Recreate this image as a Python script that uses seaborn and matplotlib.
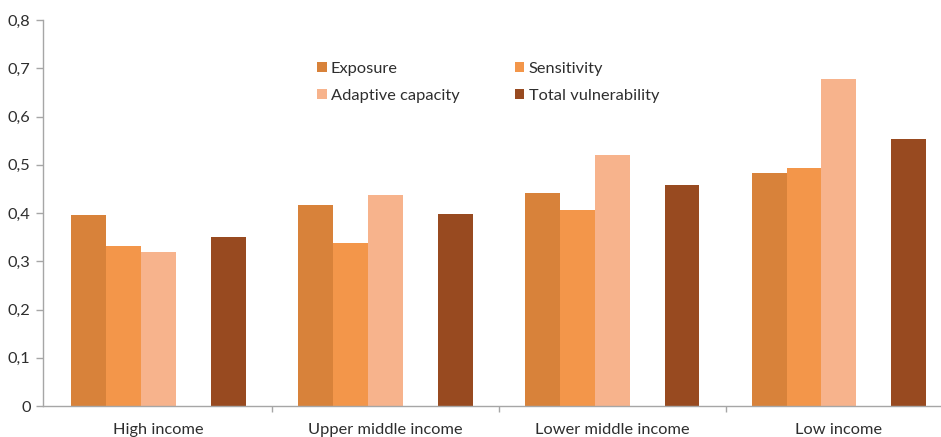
import matplotlib
matplotlib.use("Agg")
import matplotlib.pyplot as plt
from matplotlib.patches import Patch
from matplotlib.ticker import FixedLocator, FuncFormatter
import seaborn as sns
import pandas as pd
import numpy as np

# Income groups and vulnerability components
groups = ["High income", "Upper middle income", "Lower middle income", "Low income"]
exposure = [0.395, 0.417, 0.441, 0.482]
sensitivity = [0.331, 0.337, 0.407, 0.493]
adaptive_capacity = [0.319, 0.437, 0.521, 0.677]
total_vulnerability = [0.350, 0.398, 0.459, 0.554]

series_names = ["Exposure", "Sensitivity", "Adaptive capacity", "Total vulnerability"]
colors = ["#D8823A", "#F3964A", "#F7B38C", "#984A20"]
yticks = [0, 0.1, 0.2, 0.3, 0.4, 0.5, 0.6, 0.7, 0.8]

# Empty slot between the components and the total
spacer = " "
rows = []
for i, g in enumerate(groups):
    rows.append((g, "Exposure", exposure[i]))
    rows.append((g, "Sensitivity", sensitivity[i]))
    rows.append((g, "Adaptive capacity", adaptive_capacity[i]))
    rows.append((g, spacer, np.nan))
    rows.append((g, "Total vulnerability", total_vulnerability[i]))
df = pd.DataFrame(rows, columns=["group", "component", "value"])

hue_order = ["Exposure", "Sensitivity", "Adaptive capacity", spacer, "Total vulnerability"]
palette = {"Exposure": colors[0], "Sensitivity": colors[1],
           "Adaptive capacity": colors[2], spacer: "#FFFFFF",
           "Total vulnerability": colors[3]}

sns.set_theme(style="white")
plt.rcParams["font.family"] = ["Lato", "DejaVu Sans"]

fig = plt.figure(figsize=(9.41, 4.37), dpi=100)
ax = fig.add_axes([43 / 941, 1 - 406 / 437, 1 - 43 / 941, (406 - 20) / 437])

sns.barplot(data=df, x="group", y="value", hue="component", hue_order=hue_order,
            order=groups, palette=palette, width=0.77, saturation=1,
            linewidth=0, legend=False, ax=ax)

ax.set_ylim(0, 0.8)
ax.set_xlim(-0.51, 3.45)
ax.set_xlabel("")
ax.set_ylabel("")

text_color = "#2E2E2E"
spine_color = "#A6A6A6"
fs = 11.8
ax.yaxis.set_major_locator(FixedLocator(yticks))
ax.yaxis.set_major_formatter(FuncFormatter(
    lambda v, p: "0" if abs(v) < 1e-9 else f"{v:.1f}".replace(".", ",")))
ax.tick_params(axis="y", which="major", left=True, length=5, width=1,
               color=spine_color, labelsize=fs, labelcolor=text_color, pad=4)
ax.tick_params(axis="x", which="major", bottom=False, labelsize=fs,
               labelcolor=text_color, pad=6)
ax.xaxis.set_minor_locator(FixedLocator([0.5, 1.5, 2.5]))
ax.tick_params(axis="x", which="minor", bottom=True, length=4, width=1,
               color=spine_color)

for side in ["top", "right"]:
    ax.spines[side].set_visible(False)
for side in ["left", "bottom"]:
    ax.spines[side].set_color(spine_color)
    ax.spines[side].set_linewidth(1)

# Legend: two rows, two columns
order = [0, 2, 1, 3]
handles = [Patch(facecolor=colors[i], edgecolor="none") for i in order]
labels = [series_names[i] for i in order]
fig.legend(handles, labels, loc="upper left", bbox_to_anchor=(317 / 941, 1 - 62 / 437),
           ncol=2, frameon=False, fontsize=fs, handlelength=0.6, handleheight=0.6,
           handletextpad=0.25, columnspacing=3.35, labelspacing=0.78,
           borderpad=0, borderaxespad=0, labelcolor=text_color)

fig.savefig("out.png", dpi=100)
